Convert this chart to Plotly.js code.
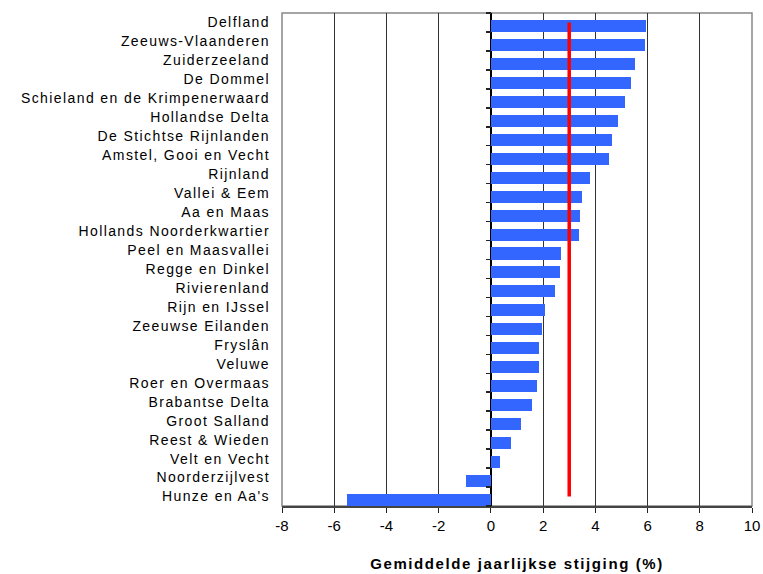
<!DOCTYPE html>
<html>
<head>
<meta charset="utf-8">
<script src="https://cdn.plot.ly/plotly-3.0.1.min.js"></script>
<style>
html,body{margin:0;padding:0;background:#fff;}
#chart{width:763px;height:574px;}
#chart .ytick text{letter-spacing:1.4px;}
#chart .xtitle{letter-spacing:1.6px;}
</style>
</head>
<body>
<div id="chart"></div>
<script>
const categories = ["Delfland","Zeeuws-Vlaanderen","Zuiderzeeland","De Dommel","Schieland en de Krimpenerwaard","Hollandse Delta","De Stichtse Rijnlanden","Amstel, Gooi en Vecht","Rijnland","Vallei & Eem","Aa en Maas","Hollands Noorderkwartier","Peel en Maasvallei","Regge en Dinkel","Rivierenland","Rijn en IJssel","Zeeuwse Eilanden","Fryslân","Veluwe","Roer en Overmaas","Brabantse Delta","Groot Salland","Reest & Wieden","Velt en Vecht","Noorderzijlvest","Hunze en Aa's"];
const stijging = [5.94,5.89,5.53,5.35,5.12,4.85,4.62,4.54,3.81,3.50,3.42,3.38,2.70,2.66,2.47,2.09,1.97,1.86,1.86,1.78,1.59,1.17,0.78,0.36,-0.94,-5.50];
const gemiddelde = [3.0];
const xTicks = [-8,-6,-4,-2,0,2,4,6,8,10];

const font = "Liberation Sans, Arial, sans-serif";
const nCat = categories.length;
const bars = {
  type: 'bar', orientation: 'h', y: categories, x: stijging,
  marker: {color: '#3366FF', line: {width: 0}},
  width: 0.634, offset: -0.134, hoverinfo: 'x+y'
};
const avgLine = {
  type: 'scatter', mode: 'lines',
  x: [gemiddelde[0], gemiddelde[0]],
  y: [categories[0], categories[nCat-1]],
  line: {color: '#FF0000', width: 3.5}, hoverinfo: 'x'
};
const boundaryTicks = [];
for (let i = 0; i <= nCat; i++) boundaryTicks.push(i - 0.5);
const tickHolder = {type: 'scatter', mode: 'markers', x: [0], y: [0], yaxis: 'y2',
  marker: {opacity: 0, size: 1}, hoverinfo: 'skip', showlegend: false};

const layout = {
  width: 763, height: 574,
  margin: {l: 282, r: 11, t: 13, b: 68},
  paper_bgcolor: '#fff', plot_bgcolor: '#fff',
  showlegend: false,
  bargap: 0,
  font: {family: font, size: 14, color: '#000'},
  xaxis: {
    range: [xTicks[0], xTicks[xTicks.length-1]], autorange: false,
    tickmode: 'array', tickvals: xTicks, ticktext: xTicks.map(String),
    showgrid: true, gridcolor: '#333', gridwidth: 1,
    zeroline: true, zerolinecolor: '#000', zerolinewidth: 1.5,
    showline: true, linecolor: '#444', linewidth: 2,
    ticks: 'outside', ticklen: 5, tickcolor: '#222', tickwidth: 1,
    tickfont: {family: font, size: 15, color: '#000'},
    title: {text: 'Gemiddelde jaarlijkse stijging (%)', font: {family: font, size: 15, color: '#000', weight: 'bold'}, standoff: 25},
    fixedrange: true
  },
  yaxis: {
    type: 'category', categoryorder: 'array', categoryarray: categories,
    autorange: false, range: [nCat - 0.5, -0.5],
    showgrid: false, zeroline: false, showline: false, ticks: '',
    tickfont: {family: font, size: 14, color: '#000'},
    ticklabelstandoff: 11,
    fixedrange: true
  },
  yaxis2: {
    overlaying: 'y', anchor: 'free', position: (0 - xTicks[0]) / (xTicks[xTicks.length-1] - xTicks[0]),
    side: 'left', autorange: false,
    range: [nCat - 0.5, -0.5],
    tickmode: 'array', tickvals: boundaryTicks,
    showticklabels: false, ticks: 'outside', ticklen: 5, tickcolor: '#222', tickwidth: 1.5,
    showgrid: false, zeroline: false, showline: false, fixedrange: true
  },
  shapes: [{
    type: 'rect', xref: 'paper', yref: 'paper', x0: 0, x1: 1, y0: 0, y1: 1,
    line: {color: '#888', width: 1.5}, fillcolor: 'rgba(0,0,0,0)', layer: 'below'
  }]
};
Plotly.newPlot('chart', [bars, tickHolder, avgLine], layout, {displayModeBar: false, staticPlot: true});
</script>
</body>
</html>
